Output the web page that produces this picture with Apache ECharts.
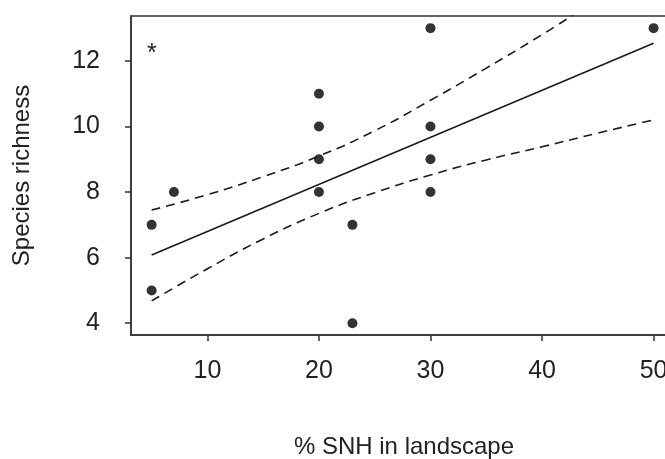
<!DOCTYPE html>
<html>
<head>
<meta charset="utf-8">
<script src="https://cdn.jsdelivr.net/npm/echarts@6/dist/echarts.min.js"></script>
<style>
html, body { margin: 0; padding: 0; background: #fff; }
#chart { width: 665px; height: 459px; }
</style>
</head>
<body>
<div id="chart"></div>
<script>
// observed sites
var snhPct = [5, 5, 7, 20, 20, 20, 20, 23, 23, 30, 30, 30, 30, 50];
var richness = [7, 5, 8, 11, 10, 9, 8, 7, 4, 13, 10, 9, 8, 13];

// fitted line and 95% band
var fitX = [5, 50];
var fitY = [6.08, 12.54];
var upperX = [5, 10, 15, 20, 25, 30, 35, 40, 43];
var upperY = [7.45, 7.92, 8.47, 9.1, 9.87, 10.8, 11.78, 12.8, 13.45];
var lowerX = [5, 10, 15, 20, 25, 30, 35, 40, 45, 50];
var lowerY = [4.68, 5.66, 6.57, 7.35, 7.98, 8.52, 8.98, 9.38, 9.8, 10.2];

var xTicks = [10, 20, 30, 40, 50];
var yTicks = [4, 6, 8, 10, 12];

var pairs = function (xs, ys) {
    var res = [];
    for (var i = 0; i < xs.length; i++) {
        res.push([xs[i], ys[i]]);
    }
    return res;
};

var ink = '#1a1a1a';
var font = 'Liberation Sans, Arial, sans-serif';

var option = {
    backgroundColor: '#fff',
    animation: false,
    grid: {
        left: 131,
        right: -12,
        top: 16,
        bottom: 124,
        outerBoundsMode: 'none',
        show: true,
        borderColor: '#333',
        borderWidth: 1.5
    },
    xAxis: {
        type: 'value',
        min: 3.15,
        max: 52.1,
        name: '% SNH in landscape',
        nameLocation: 'middle',
        nameGap: 100,
        nameTextStyle: { color: '#222', fontSize: 24, fontFamily: font },
        splitLine: { show: false },
        axisLine: { show: true, onZero: false, lineStyle: { color: '#333', width: 1.5 } },
        axisTick: { show: true, inside: false, length: 6, customValues: xTicks, lineStyle: { color: '#333', width: 1.5 } },
        axisLabel: { color: '#222', fontSize: 25, fontFamily: font, margin: 24, customValues: xTicks }
    },
    yAxis: {
        type: 'value',
        min: 3.64,
        max: 13.37,
        name: 'Species richness',
        nameLocation: 'middle',
        nameGap: 97,
        nameTextStyle: { color: '#222', fontSize: 24, fontFamily: font },
        splitLine: { show: false },
        axisLine: { show: true, onZero: false, lineStyle: { color: '#333', width: 1.5 } },
        axisTick: { show: true, inside: false, length: 6, customValues: yTicks, lineStyle: { color: '#333', width: 1.5 } },
        axisLabel: { color: '#222', fontSize: 25, fontFamily: font, margin: 31, customValues: yTicks }
    },
    graphic: [{
        type: 'text',
        left: 147,
        top: 42,
        style: { text: '*', fontSize: 25, fontFamily: font, fill: '#222' }
    }],
    series: [{
        name: 'upper',
        type: 'line',
        smooth: true,
        symbol: 'none',
        clip: true,
        lineStyle: { color: ink, width: 1.6, type: [9, 6] },
        data: pairs(upperX, upperY)
    }, {
        name: 'lower',
        type: 'line',
        smooth: true,
        symbol: 'none',
        clip: true,
        lineStyle: { color: ink, width: 1.6, type: [9, 6] },
        data: pairs(lowerX, lowerY)
    }, {
        name: 'fit',
        type: 'line',
        symbol: 'none',
        lineStyle: { color: ink, width: 1.6 },
        data: pairs(fitX, fitY)
    }, {
        name: 'sites',
        type: 'scatter',
        symbol: 'circle',
        symbolSize: 10,
        itemStyle: { color: '#000' },
        data: pairs(snhPct, richness)
    }]
};

var myChart = echarts.init(document.getElementById('chart'));
myChart.setOption(option);
</script>
</body>
</html>
